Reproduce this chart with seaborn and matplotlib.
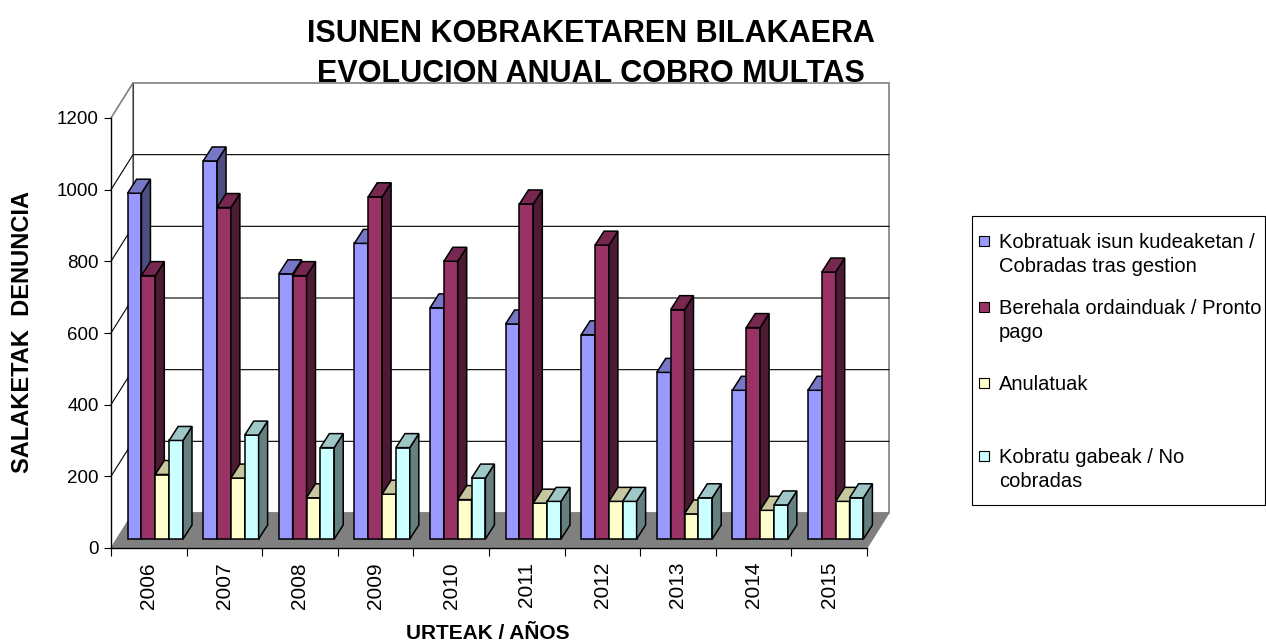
import matplotlib
matplotlib.use('Agg')
import numpy as np
import pandas as pd
import seaborn as sns
import matplotlib.pyplot as plt
from matplotlib.patches import Polygon, Rectangle
from matplotlib.colors import to_rgb

# data
years = ['2006', '2007', '2008', '2009', '2010', '2011', '2012', '2013', '2014', '2015']
cobradas = [965, 1055, 740, 825, 645, 600, 570, 465, 415, 415]
pronto_pago = [735, 925, 735, 955, 775, 935, 820, 640, 590, 745]
anuladas = [180, 170, 115, 125, 110, 100, 105, 70, 80, 105]
no_cobradas = [275, 290, 255, 255, 170, 105, 105, 115, 95, 115]
series_names = ['Kobratuak isun kudeaketan /\nCobradas tras gestion',
                'Berehala ordainduak / Pronto\npago',
                'Anulatuak',
                'Kobratu gabeak / No\ncobradas']
colors = ['#9999FF', '#993366', '#FFFFCC', '#CCFFFF']
y_ticks = [0, 200, 400, 600, 800, 1000, 1200]

W, H = 1266, 641
sns.set_style('white')
plt.rcParams['font.family'] = ['Liberation Sans', 'DejaVu Sans']
plt.rcParams['text.color'] = 'black'

df = pd.DataFrame({
    'year': years * 4,
    'value': cobradas + pronto_pago + anuladas + no_cobradas,
    'serie': np.repeat(series_names, len(years)),
})

fig = plt.figure(figsize=(W / 100, H / 100), dpi=100)
ax = fig.add_axes([111 / W, 1 - 548 / H, 756 / W, 430 / H])
sns.barplot(data=df, x='year', y='value', hue='serie', palette=colors, width=0.733,
            edgecolor='black', linewidth=1.1, saturation=1, legend=False, ax=ax)
bars = sorted(list(ax.patches), key=lambda p: p.get_x())
ax.set_xlim(-0.5, 9.5)
ax.set_ylim(0, 1200)
ax.patch.set_visible(False)

# pixel -> data units
ux, uy = 10 / 756, 1200 / 430
x0, x1 = -0.5, 9.5
Fx, Fy = 22 * ux, 35 * uy

# 3d box: back wall, floor, gridlines
ax.add_patch(Rectangle((x0 + Fx, Fy), x1 - x0, 1200, fc='white', ec='#808080',
                       lw=1.2, zorder=0.2, clip_on=False))
ax.plot([x0 + Fx, x0 + Fx], [Fy, 1200 + Fy], color='#404040', lw=0.8, zorder=0.3, clip_on=False)
for v in y_ticks[1:-1]:
    ax.plot([x0, x0 + Fx, x1 + Fx], [v, v + Fy, v + Fy], color='black', lw=0.8,
            zorder=0.4, clip_on=False)
ax.plot([x0, x0 + Fx], [1200, 1200 + Fy], color='#808080', lw=1.2, zorder=0.4, clip_on=False)
ax.add_patch(Polygon([(x0, 0), (x1, 0), (x1 + Fx, Fy), (x0 + Fx, Fy)], fc='#808080',
                     ec='#808080', lw=0.8, zorder=1, clip_on=False))

# turn flat bars into 3d columns
sx, sy = 6.5 * ux, 9 * uy
dx, dy = 9 * ux, 14 * uy
for i, p in enumerate(bars):
    z = 3 + i * 0.01
    bx = p.get_x() + sx
    w = p.get_width()
    h = p.get_height()
    p.set_x(bx)
    p.set_y(sy)
    p.set_zorder(z)
    p.set_clip_on(False)
    fc = np.array(to_rgb(p.get_facecolor()))
    ax.add_patch(Polygon([(bx + w, sy), (bx + w + dx, sy + dy), (bx + w + dx, sy + h + dy), (bx + w, sy + h)],
                         fc=fc * 0.5, ec='black', lw=1.1, zorder=z, clip_on=False))
    ax.add_patch(Polygon([(bx, sy + h), (bx + w, sy + h), (bx + w + dx, sy + h + dy), (bx + dx, sy + h + dy)],
                         fc=fc * 0.78, ec='black', lw=1.1, zorder=z, clip_on=False))

# axes
for s in ['top', 'right']:
    ax.spines[s].set_visible(False)
for s in ['left', 'bottom']:
    ax.spines[s].set_color('black')
    ax.spines[s].set_linewidth(1.0)
ax.set_yticks(y_ticks)
ax.tick_params(axis='y', left=True, length=5, width=0.8, pad=4, labelsize=13.5,
               color='black', labelcolor='black')
ax.set_xticks(range(len(years)))
ax.set_xticklabels(years)
ax.set_xticks(np.arange(-0.5, len(years), 1), minor=True)
ax.tick_params(axis='x', which='major', bottom=True, length=0, pad=10, labelsize=15,
               labelrotation=90, labelcolor='black')
ax.tick_params(axis='x', which='minor', bottom=True, length=6, width=0.8, color='black')
ax.set_xlabel('')
ax.set_ylabel('')

# titles
fig.text(591 / W, 1 - 42 / H, 'ISUNEN KOBRAKETAREN BILAKAERA', ha='center', va='baseline',
         fontsize=22, fontweight='bold')
fig.text(591 / W, 1 - 82 / H, 'EVOLUCION ANUAL COBRO MULTAS', ha='center', va='baseline',
         fontsize=22, fontweight='bold')
fig.text(488 / W, 1 - 639 / H, 'URTEAK / AÑOS', ha='center', va='baseline',
         fontsize=15, fontweight='bold')
fig.text(23 / W, 1 - 332 / H, 'SALAKETAK  DENUNCIA', ha='center', va='center', rotation=90,
         fontsize=17, fontweight='bold')

# legend (Excel style: marker aligned to the first line)
fig.add_artist(Rectangle((972 / W, 1 - 505 / H), 293 / W, 289 / H, transform=fig.transFigure,
                         fc='white', ec='black', lw=0.8))
entry_y = [241, 307, 383, 456]
for name, c, yy in zip(series_names, colors, entry_y):
    fig.add_artist(Rectangle((979 / W, 1 - (yy + 5) / H), 10 / W, 10 / H, transform=fig.transFigure,
                             fc=c, ec='black', lw=0.8))
    for j, line in enumerate(name.split('\n')):
        fig.text(999 / W, 1 - (yy + 7 + 24 * j) / H, line, ha='left', va='baseline', fontsize=14.5)

fig.savefig('out.png', dpi=100)
